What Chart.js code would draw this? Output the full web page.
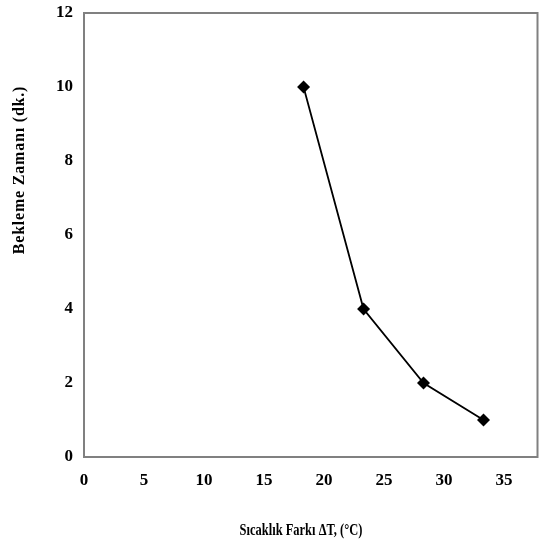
<!DOCTYPE html>
<html>
<head>
<meta charset="utf-8">
<script src="https://cdn.jsdelivr.net/npm/chart.js@4/dist/chart.umd.min.js"></script>
<style>
  html, body { margin: 0; padding: 0; background: #fff; }
  #wrap { width: 544px; height: 548px; }
</style>
</head>
<body>
<div id="wrap"><canvas id="chart"></canvas></div>
<script>
// Data
const deltaT = [18.3, 23.3, 28.3, 33.3];      // Sıcaklık farkı (°C)
const waitMinutes = [10, 4, 2, 1];            // Bekleme zamanı (dk.)
const xTicks = [0, 5, 10, 15, 20, 25, 30, 35];
const yTicks = [0, 2, 4, 6, 8, 10, 12];
const xTitle = 'Sıcaklık Farkı ΔT, (°C)';
const yTitle = 'Bekleme Zamanı (dk.)';

const serif = '"Liberation Serif", "Times New Roman", serif';

// Grey frame around the plot area + condensed axis titles
const frameAndTitles = {
    id: 'frameAndTitles',
    beforeDatasetsDraw(chart) {
        const { ctx, chartArea: a } = chart;
        ctx.save();
        ctx.strokeStyle = '#808080';
        ctx.lineWidth = 2;
        ctx.strokeRect(a.left, a.top, a.right - a.left, a.bottom - a.top);
        ctx.restore();
    },
    afterDraw(chart) {
        const { ctx } = chart;
        ctx.save();
        ctx.fillStyle = '#000';
        ctx.textAlign = 'center';
        ctx.textBaseline = 'middle';

        // y title, rotated
        ctx.save();
        ctx.font = 'bold 16px ' + serif;
        ctx.letterSpacing = '0.8px';
        ctx.translate(20, 170);
        ctx.rotate(-Math.PI / 2);
        ctx.fillText(yTitle, 0, 0);
        ctx.restore();

        // x title
        ctx.save();
        ctx.font = 'bold 16px ' + serif;
        ctx.translate(301, 531);
        ctx.scale(0.78, 1);
        ctx.fillText(xTitle, 0, 0);
        ctx.restore();

        ctx.restore();
    }
};

const ctx = document.getElementById('chart').getContext('2d');
new Chart(ctx, {
    type: 'scatter',
    data: {
        datasets: [{
            data: deltaT.map((x, i) => ({ x, y: waitMinutes[i] })),
            showLine: true,
            borderColor: '#000',
            borderWidth: 1.8,
            backgroundColor: '#000',
            pointStyle: 'rectRot',
            pointRadius: 6.5,
            pointHoverRadius: 6.5,
            pointBorderWidth: 0
        }]
    },
    plugins: [frameAndTitles],
    options: {
        responsive: true,
        maintainAspectRatio: false,
        animation: false,
        layout: { padding: { left: 0, top: 13, right: 5, bottom: 0 } },
        plugins: {
            legend: { display: false },
            tooltip: { enabled: false }
        },
        scales: {
            x: {
                type: 'linear',
                min: 0,
                max: 37.8,
                afterBuildTicks: (scale) => {
                    scale.ticks = xTicks.map(v => ({ value: v }));
                },
                afterFit: (scale) => {
                    scale.height = 91;
                    scale.paddingLeft = 0;
                    scale.paddingRight = 0;
                },
                grid: { display: false, drawTicks: false },
                border: { display: false },
                ticks: {
                    color: '#000',
                    padding: 13,
                    maxRotation: 0,
                    font: { family: serif, size: 17, weight: 'bold' }
                }
            },
            y: {
                type: 'linear',
                min: 0,
                max: 12,
                afterBuildTicks: (scale) => {
                    scale.ticks = yTicks.map(v => ({ value: v }));
                },
                afterFit: (scale) => {
                    scale.width = 84;
                    scale.paddingTop = 0;
                    scale.paddingBottom = 0;
                },
                grid: { display: false, drawTicks: false },
                border: { display: false },
                ticks: {
                    color: '#000',
                    padding: 11,
                    font: { family: serif, size: 17, weight: 'bold' }
                }
            }
        }
    }
});
</script>
</body>
</html>
